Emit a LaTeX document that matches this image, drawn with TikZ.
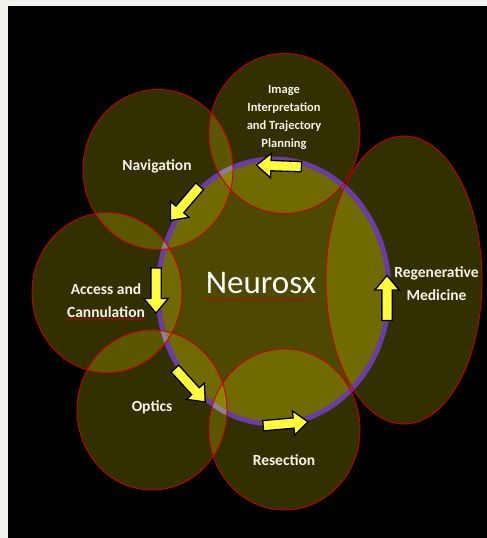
\documentclass[tikz,border=0pt]{standalone}
\usepackage{fontspec}
\setmainfont{Carlito}
\usetikzlibrary{shapes.arrows,decorations.pathmorphing}
\definecolor{framebg}{HTML}{F2F2EC}
\definecolor{ringpurple}{HTML}{6A3CA8}
\definecolor{ringgrey}{HTML}{8E7E9A}
\definecolor{arrowyellow}{HTML}{FFFF3C}
\definecolor{edgered}{HTML}{C80000}
\definecolor{labelwhite}{HTML}{F4F4EA}
\tikzset{
  centrebody/.style={fill=yellow, fill opacity=0.3},
  centrering/.style={draw=ringpurple, line width=5pt},
  bubblefill/.style={fill=yellow, fill opacity=0.2},
  bubbleedge/.style={draw=edgered, line width=0.9pt},
  blockarrow/.style={single arrow, draw=black, line width=1.3pt, fill=arrowyellow,
    minimum height=45pt, inner xsep=0pt, inner ysep=4.5pt,
    single arrow head extend=7pt, single arrow tip angle=80,
    single arrow head indent=0pt},
  lab/.style={text=labelwhite, font=\bfseries\fontsize{15.5}{22.5}\selectfont, align=center, inner sep=0pt},
  smalllab/.style={text=labelwhite, font=\bfseries\fontsize{12.5}{18}\selectfont, align=center, inner sep=0pt},
  squiggle/.style={draw=edgered, line width=0.5pt, decorate,
    decoration={snake, amplitude=0.6pt, segment length=2.6pt}}
}
\begin{document}
\begin{tikzpicture}[x=1pt,y=-1pt]
\useasboundingbox (0,0) rectangle (487,538);
\fill[framebg] (0,0) rectangle (487,538);
\fill[black] (8,5.5) rectangle (487,538);
% central body
\fill[centrebody] (273.5,291.5) ellipse [x radius=115.5, y radius=132.5];
% bubble fills
\path[bubblefill] (284.5,133.5) ellipse [x radius=75.5, y radius=80];
\path[bubblefill] (158,169.5) ellipse [x radius=75, y radius=80];
\path[bubblefill] (107,292.7) ellipse [x radius=75, y radius=80];
\path[bubblefill] (152,410) ellipse [x radius=75, y radius=80];
\path[bubblefill] (284.5,429.5) ellipse [x radius=75.5, y radius=80.5];
\path[bubblefill] (404,280) ellipse [x radius=78, y radius=144];
% ring
\draw[centrering] (273.5,291.5) ellipse [x radius=115.5, y radius=132.5];
% ring where two bubbles overlap
\begin{scope}
\clip (284.5,133.5) ellipse [x radius=75.5, y radius=80];
\clip (158,169.5) ellipse [x radius=75, y radius=80];
\draw[centrering, draw=ringgrey] (273.5,291.5) ellipse [x radius=115.5, y radius=132.5];
\end{scope}
\begin{scope}
\clip (158,169.5) ellipse [x radius=75, y radius=80];
\clip (107,292.7) ellipse [x radius=75, y radius=80];
\draw[centrering, draw=ringgrey] (273.5,291.5) ellipse [x radius=115.5, y radius=132.5];
\end{scope}
\begin{scope}
\clip (107,292.7) ellipse [x radius=75, y radius=80];
\clip (152,410) ellipse [x radius=75, y radius=80];
\draw[centrering, draw=ringgrey] (273.5,291.5) ellipse [x radius=115.5, y radius=132.5];
\end{scope}
\begin{scope}
\clip (152,410) ellipse [x radius=75, y radius=80];
\clip (284.5,429.5) ellipse [x radius=75.5, y radius=80.5];
\draw[centrering, draw=ringgrey] (273.5,291.5) ellipse [x radius=115.5, y radius=132.5];
\end{scope}
\begin{scope}
\clip (284.5,429.5) ellipse [x radius=75.5, y radius=80.5];
\clip (404,280) ellipse [x radius=78, y radius=144];
\draw[centrering, draw=ringgrey] (273.5,291.5) ellipse [x radius=115.5, y radius=132.5];
\end{scope}
\begin{scope}
\clip (404,280) ellipse [x radius=78, y radius=144];
\clip (284.5,133.5) ellipse [x radius=75.5, y radius=80];
\draw[centrering, draw=ringgrey] (273.5,291.5) ellipse [x radius=115.5, y radius=132.5];
\end{scope}
% bubble outlines
\draw[bubbleedge] (284.5,133.5) ellipse [x radius=75.5, y radius=80];
\draw[bubbleedge] (158,169.5) ellipse [x radius=75, y radius=80];
\draw[bubbleedge] (107,292.7) ellipse [x radius=75, y radius=80];
\draw[bubbleedge] (152,410) ellipse [x radius=75, y radius=80];
\draw[bubbleedge] (284.5,429.5) ellipse [x radius=75.5, y radius=80.5];
\draw[bubbleedge] (404,280) ellipse [x radius=78, y radius=144];
% arrows
\node[blockarrow, rotate=178] (a1) at (282,166) {};
\node[blockarrow, rotate=229.4] (a2) at (187,201) {};
\node[blockarrow, rotate=270] (a3) at (156,287.5) {};
\node[blockarrow, rotate=312.3] (a4) at (188,383) {};
\node[blockarrow, rotate=5] (a5) at (282.5,424) {};
\node[blockarrow, rotate=90] (a6) at (387,301) {};
% labels
\node[smalllab] (img) at (284,117.5) {Image\\Interpretation\\and Trajectory\\Planning};
\node[lab, anchor=base] (nav) at (157,170) {Navigation};
\node[lab] (acc) at (106,300.4) {Access and\\Cannulation};
\node[lab, anchor=base] (opt) at (152,411.8) {Optics};
\node[lab, anchor=base] (res) at (284,465.5) {Resection};
\node[lab] (reg) at (436.5,283.5) {Regenerative\\Medicine};
\node[text=white, font=\fontsize{33}{36}\selectfont, anchor=base, inner sep=0pt] (neu) at (261,293.3) {Neurosx};
% spell-check squiggles
\draw[squiggle] (205,298.5) -- (317,298.5);
\draw[squiggle] (66,319) -- (146,319);
\end{tikzpicture}
\end{document}
